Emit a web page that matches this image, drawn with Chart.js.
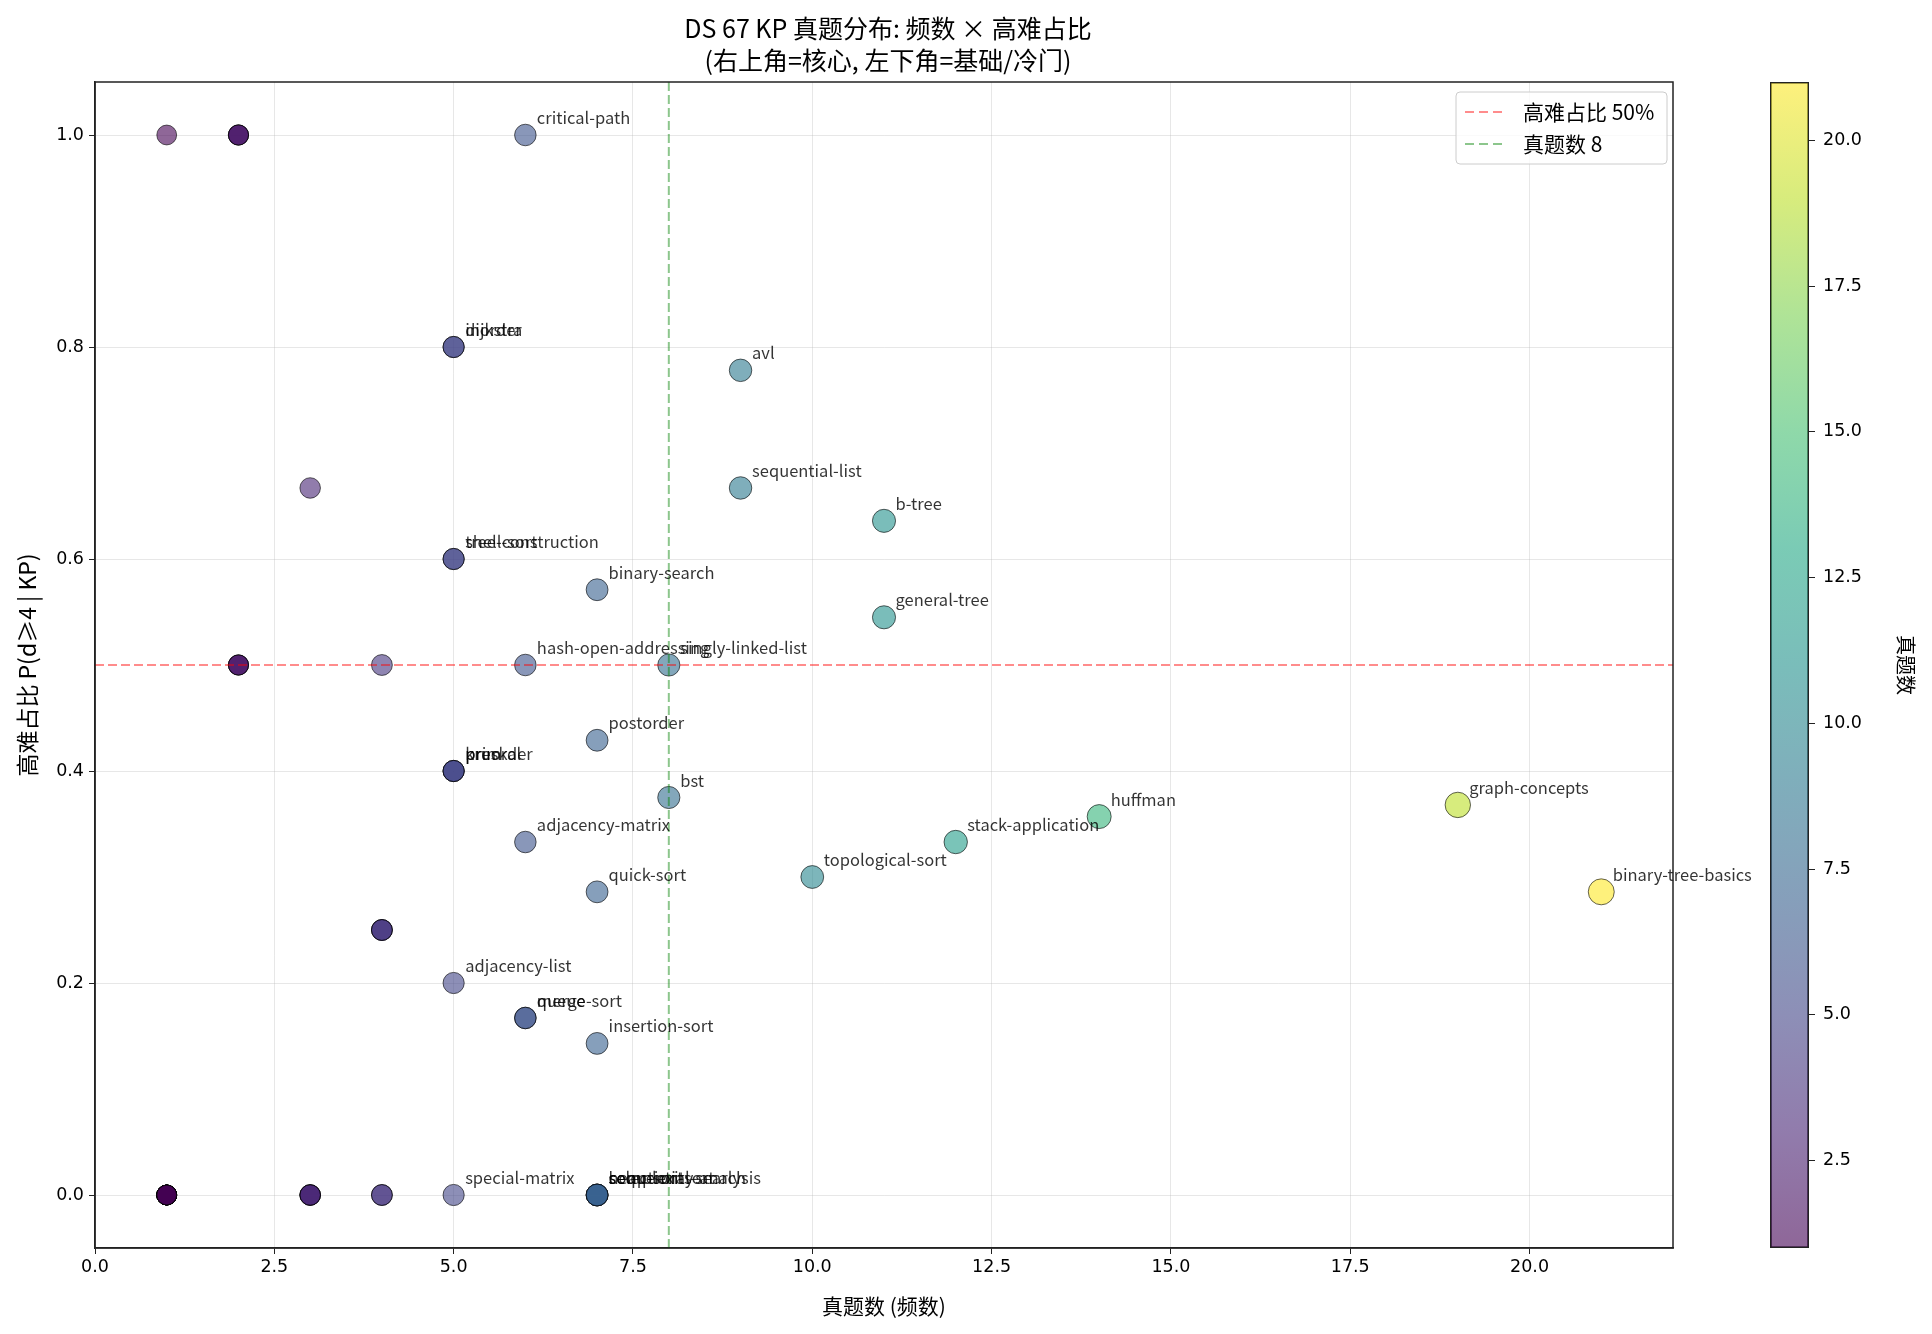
<!DOCTYPE html>
<html>
<head>
<meta charset="utf-8">
<script src="https://cdn.jsdelivr.net/npm/chart.js@4.4.1/dist/chart.umd.min.js"></script>
<style>
  html, body { margin: 0; padding: 0; background: #fff; }
  #wrap { position: relative; width: 1932px; height: 1334px; }
  #main { position: absolute; left: 0; top: 0; }
  #cbar { position: absolute; left: 1770px; top: 0; }
</style>
</head>
<body>
<div id="wrap">
  <canvas id="main" width="1932" height="1334"></canvas>
  <canvas id="cbar" width="162" height="1334"></canvas>
</div>
<script>
// ---- data (67 knowledge points) ----
const kpNames = [
  "critical-path", "dijkstra", "inorder", "avl", "sequential-list", "b-tree",
  "shell-sort", "tree-construction", "binary-search", "general-tree",
  "hash-open-addressing", "singly-linked-list", "postorder", "preorder", "kruskal", "prim",
  "bst", "huffman", "graph-concepts", "stack-application", "adjacency-matrix",
  "topological-sort", "quick-sort", "binary-tree-basics", "adjacency-list",
  "queue", "merge-sort", "insertion-sort", "special-matrix",
  "heap-sort", "sequential-search", "complexity-analysis", "selection-sort",
  "floyd", "red-black-tree", "b-plus-tree", "external-sort", "hash-chaining",
  "threaded-tree", "union-find", "kmp", "bfs", "dfs", "heap", "radix-sort",
  "string-basics", "generalized-list", "static-linked-list", "circular-linked-list",
  "shared-stack", "circular-queue", "deque", "recursion", "array-storage",
  "sparse-matrix", "forest-conversion", "spanning-tree", "hash-function",
  "bubble-sort", "counting-sort", "block-search",
  "double-linked-list", "stack-basics", "expression-eval", "level-order",
  "cross-list", "adjacency-multilist"
];
const counts = [
  6, 5, 5, 9, 9, 11,
  5, 5, 7, 11,
  6, 8, 7, 5, 5, 5,
  8, 14, 19, 12, 6,
  10, 7, 21, 5,
  6, 6, 7, 5,
  7, 7, 7, 7,
  1, 2, 2, 2, 3,
  2, 2, 2, 4, 4, 4, 4,
  1, 1, 1, 1,
  1, 1, 1, 1, 1,
  1, 1, 1, 1,
  1, 1, 1,
  3, 3, 3, 3,
  4, 4
];
const hardRatios = [
  1.0, 0.8, 0.8, 0.778, 0.667, 0.636,
  0.6, 0.6, 0.571, 0.545,
  0.5, 0.5, 0.429, 0.4, 0.4, 0.4,
  0.375, 0.357, 0.368, 0.333, 0.333,
  0.3, 0.286, 0.286, 0.2,
  0.167, 0.167, 0.143, 0.0,
  0.0, 0.0, 0.0, 0.0,
  1.0, 1.0, 1.0, 1.0, 0.667,
  0.5, 0.5, 0.5, 0.5, 0.25, 0.25, 0.25,
  0.0, 0.0, 0.0, 0.0,
  0.0, 0.0, 0.0, 0.0, 0.0,
  0.0, 0.0, 0.0, 0.0,
  0.0, 0.0, 0.0,
  0.0, 0.0, 0.0, 0.0,
  0.0, 0.0
];
const hardLine = 0.5;
const countLine = 8;
const labelMinCount = 5;
const xTicks = [0, 2.5, 5, 7.5, 10, 12.5, 15, 17.5, 20];
const yTicks = [0, 0.2, 0.4, 0.6, 0.8, 1.0];
const cbTicks = [2.5, 5, 7.5, 10, 12.5, 15, 17.5, 20];
const xRange = [0, 22];
const yRange = [-0.05, 1.05];

const titleLines = ["DS 67 KP 真题分布: 频数 × 高难占比", "(右上角=核心, 左下角=基础/冷门)"];
const legendLabels = ["高难占比 50%", "真题数 8"];

// ---- look ----
const CJK = '"Noto Sans CJK SC", "Noto Sans", sans-serif';
const NUM = '"DejaVu Sans", sans-serif';
const W = 1932, H = 1334;
const PLOT = { left: 95, top: 82, right: 1673, bottom: 1248 };
const cMin = Math.min(...counts), cMax = Math.max(...counts);

const VIRIDIS = ["#440154", "#482475", "#414487", "#355f8d", "#2a788e", "#21918c",
                 "#22a884", "#44bf70", "#7ad151", "#bddf26", "#fde725"];
function hex(h) { return [1, 3, 5].map(i => parseInt(h.substr(i, 2), 16)); }
function viridis(t, a) {
  t = Math.max(0, Math.min(1, t));
  const s = t * 10, i = Math.min(9, Math.floor(s)), f = s - i;
  const c0 = hex(VIRIDIS[i]), c1 = hex(VIRIDIS[i + 1]);
  const c = c0.map((v, k) => Math.round(v + (c1[k] - v) * f));
  return `rgba(${c[0]},${c[1]},${c[2]},${a})`;
}
const norm = c => (c - cMin) / (cMax - cMin);
const radiusFor = c => Math.sqrt(95 + 3.5 * c);

const points = counts.map((c, i) => ({ x: c, y: hardRatios[i] }));

// title, point labels, legend, frame
const decor = {
  id: "decor",
  afterDraw(chart) {
    const { ctx, chartArea: a } = chart;
    ctx.save();
    // title
    ctx.fillStyle = "#000";
    ctx.font = `25px ${CJK}`;
    ctx.textAlign = "center";
    ctx.textBaseline = "middle";
    const cx = (a.left + a.right) / 2 + 4;
    ctx.fillText(titleLines[0], cx, 28);
    ctx.fillText(titleLines[1], cx, 60);

    // point labels
    const meta = chart.getDatasetMeta(2);
    ctx.font = `16.5px ${CJK}`;
    ctx.textAlign = "left";
    ctx.textBaseline = "alphabetic";
    ctx.fillStyle = "rgba(0,0,0,0.8)";
    meta.data.forEach((el, i) => {
      if (counts[i] < labelMinCount) return;
      ctx.fillText(kpNames[i], el.x + 11.5, el.y - 11);
    });

    // legend
    const lx = a.right - 217, ly = a.top + 10, lw = 211, lh = 72;
    ctx.beginPath();
    ctx.roundRect(lx, ly, lw, lh, 4);
    ctx.fillStyle = "rgba(255,255,255,0.8)";
    ctx.fill();
    ctx.strokeStyle = "#cccccc";
    ctx.lineWidth = 1;
    ctx.stroke();
    const legendColors = ["rgba(255,0,0,0.45)", "rgba(0,128,0,0.45)"];
    legendLabels.forEach((txt, k) => {
      const y = ly + 20 + k * 32;
      ctx.setLineDash([9, 5]);
      ctx.strokeStyle = legendColors[k];
      ctx.lineWidth = 2;
      ctx.beginPath();
      ctx.moveTo(lx + 9, y);
      ctx.lineTo(lx + 51, y);
      ctx.stroke();
      ctx.setLineDash([]);
      ctx.fillStyle = "#000";
      ctx.font = `21px ${CJK}`;
      ctx.textBaseline = "middle";
      ctx.fillText(txt, lx + 67, y);
    });

    // frame
    ctx.strokeStyle = "#222";
    ctx.lineWidth = 1.5;
    ctx.strokeRect(a.left, a.top, a.right - a.left, a.bottom - a.top);
    ctx.restore();
  }
};

new Chart(document.getElementById("main"), {
  type: "scatter",
  data: {
    datasets: [
      {
        type: "line",
        label: legendLabels[0],
        data: [{ x: xRange[0], y: hardLine }, { x: xRange[1], y: hardLine }],
        borderColor: "rgba(255,0,0,0.45)",
        borderDash: [9, 4],
        borderWidth: 2,
        pointRadius: 0,
        order: 0
      },
      {
        type: "line",
        label: legendLabels[1],
        data: [{ x: countLine, y: yRange[0] }, { x: countLine, y: yRange[1] }],
        borderColor: "rgba(0,128,0,0.45)",
        borderDash: [9, 4],
        borderWidth: 2,
        pointRadius: 0,
        order: 0
      },
      {
        label: "KP",
        data: points,
        backgroundColor: ctx => viridis(norm(counts[ctx.dataIndex]), 0.6),
        borderColor: "rgba(0,0,0,0.6)",
        borderWidth: 1,
        pointRadius: ctx => radiusFor(counts[ctx.dataIndex]),
        pointHoverRadius: ctx => radiusFor(counts[ctx.dataIndex]),
        order: 1
      }
    ]
  },
  options: {
    responsive: false,
    animation: false,
    events: [],
    layout: { padding: { left: 0, top: PLOT.top, right: W - PLOT.right, bottom: 0 } },
    plugins: { legend: { display: false }, tooltip: { enabled: false } },
    scales: {
      x: {
        type: "linear", min: xRange[0], max: xRange[1], z: 1,
        afterBuildTicks: s => { s.ticks = xTicks.map(v => ({ value: v })); },
        afterFit: s => { s.height = H - PLOT.bottom; },
        ticks: { font: { family: NUM, size: 17.5 }, color: "#000", padding: 3, maxRotation: 0,
                 autoSkip: false, callback: v => v.toFixed(1) },
        grid: { color: "rgba(176,176,176,0.3)", lineWidth: 1, tickColor: "#222", tickLength: 6 },
        border: { display: true, color: "#222", width: 1.5 },
        title: { display: true, text: "真题数 (频数)", color: "#000",
                 font: { family: CJK, size: 21 }, padding: { top: 0, bottom: 15 } }
      },
      y: {
        type: "linear", min: yRange[0], max: yRange[1], z: 1,
        afterBuildTicks: s => { s.ticks = yTicks.map(v => ({ value: v })); },
        afterFit: s => { s.width = PLOT.left; },
        ticks: { font: { family: NUM, size: 17.5 }, color: "#000", padding: 5,
                 autoSkip: false, callback: v => v.toFixed(1) },
        grid: { color: "rgba(176,176,176,0.3)", lineWidth: 1, tickColor: "#222", tickLength: 6 },
        border: { display: true, color: "#222", width: 1.5 },
        title: { display: true, text: "高难占比 P(d≥4 | KP)", color: "#000",
                 font: { family: CJK, size: 23 }, padding: { top: 13, bottom: 0 } }
      }
    }
  },
  plugins: [decor]
});

// ---- colorbar ----
new Chart(document.getElementById("cbar"), {
  type: "bar",
  data: {
    labels: ["真题数"],
    datasets: [{
      data: [[cMin, cMax]],
      backgroundColor: ctx => {
        const a = ctx.chart.chartArea;
        if (!a) return "#888";
        const g = ctx.chart.ctx.createLinearGradient(0, a.bottom, 0, a.top);
        for (let k = 0; k <= 20; k++) g.addColorStop(k / 20, viridis(k / 20, 0.6));
        return g;
      },
      borderColor: "#222",
      borderWidth: 1.5,
      borderSkipped: false,
      barPercentage: 1,
      categoryPercentage: 1
    }]
  },
  options: {
    responsive: false,
    animation: false,
    events: [],
    layout: { padding: { left: 0, top: PLOT.top, right: 0, bottom: H - PLOT.bottom } },
    plugins: { legend: { display: false }, tooltip: { enabled: false } },
    scales: {
      x: { display: false },
      y: {
        position: "right", min: cMin, max: cMax,
        afterBuildTicks: s => { s.ticks = cbTicks.map(v => ({ value: v })); },
        afterFit: s => { s.width = 162 - 39; },
        ticks: { font: { family: NUM, size: 17.5 }, color: "#000", padding: 8,
                 callback: v => v.toFixed(1) },
        grid: { drawOnChartArea: false, tickColor: "#222", tickLength: 6 },
        border: { display: false },
        title: { display: true, text: "真题数", color: "#000",
                 font: { family: CJK, size: 20 }, padding: { top: 14, bottom: 0 } }
      }
    }
  }
});
</script>
</body>
</html>
